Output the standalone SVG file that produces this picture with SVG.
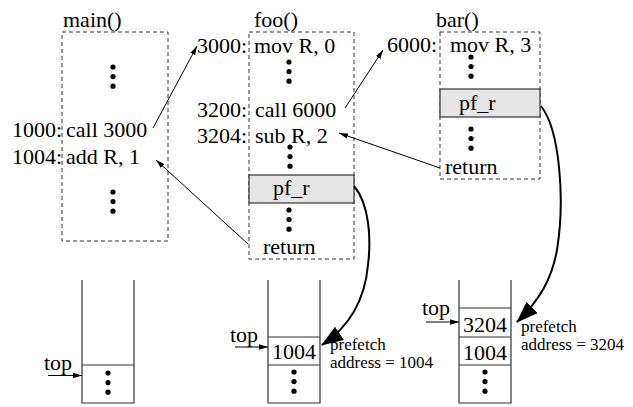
<svg xmlns="http://www.w3.org/2000/svg" width="633" height="407" viewBox="0 0 633 407" font-family="'Liberation Serif', 'Times New Roman', Times, serif">
  <defs>
    <style>
      text { fill: #000; }
      .t { font-size: 22px; }
      .s { font-size: 17px; }
      .frame { fill: none; stroke: #333; stroke-width: 1; stroke-dasharray: 4 3; }
      .pf { fill: #e6e6e6; stroke: #333; stroke-width: 1.2; }
      .stk { fill: none; stroke: #333; stroke-width: 1.2; }
      .thin { fill: none; stroke: #000; stroke-width: 1; marker-end: url(#ah); }
      .thick { fill: none; stroke: #000; stroke-width: 2; marker-end: url(#bh); }
      .dot { fill: #000; }
    </style>
    <marker id="ah" viewBox="0 0 10 6" refX="10" refY="3" markerWidth="9" markerHeight="5.5" markerUnits="userSpaceOnUse" orient="auto">
      <path d="M0,0 L10,3 L0,6 z" fill="#000"/>
    </marker>
    <marker id="bh" viewBox="0 0 22 16" refX="21" refY="8" markerWidth="22" markerHeight="16" markerUnits="userSpaceOnUse" orient="auto">
      <path d="M0,0 L22,8 L0,16 z" fill="#000"/>
    </marker>
    <g id="vdots">
      <circle cx="0" cy="0" r="2.6"/>
      <circle cx="0" cy="9.6" r="2.6"/>
      <circle cx="0" cy="19.2" r="2.6"/>
    </g>
  </defs>

  <!-- main() routine -->
  <g id="main">
    <text class="t" x="63" y="27">main()</text>
    <rect class="frame" x="62" y="32" width="106" height="209"/>
    <use href="#vdots" x="113" y="67" class="dot"/>
    <text class="t" x="12" y="137">1000:</text>
    <text class="t" x="66" y="137">call 3000</text>
    <text class="t" x="12" y="164">1004:</text>
    <text class="t" x="66" y="164">add R, 1</text>
    <use href="#vdots" x="113" y="192" class="dot"/>
  </g>

  <!-- foo() routine -->
  <g id="foo">
    <text class="t" x="254" y="27">foo()</text>
    <rect class="frame" x="249" y="32" width="105" height="227"/>
    <text class="t" x="197" y="53">3000:</text>
    <text class="t" x="254" y="53">mov R, 0</text>
    <use href="#vdots" x="289" y="62" class="dot"/>
    <text class="t" x="197" y="117">3200:</text>
    <text class="t" x="255" y="117">call 6000</text>
    <text class="t" x="197" y="143">3204:</text>
    <text class="t" x="255" y="143">sub R, 2</text>
    <use href="#vdots" x="290" y="147" class="dot"/>
    <rect class="pf" x="249" y="175" width="105" height="28"/>
    <text class="t" x="273" y="195">pf_r</text>
    <use href="#vdots" x="289" y="210" class="dot"/>
    <text class="t" x="263" y="254">return</text>
  </g>

  <!-- bar() routine -->
  <g id="bar">
    <text class="t" x="436" y="27">bar()</text>
    <rect class="frame" x="440" y="32" width="100" height="147"/>
    <text class="t" x="387" y="52">6000:</text>
    <text class="t" x="450" y="52">mov R, 3</text>
    <use href="#vdots" x="471" y="57" class="dot"/>
    <rect class="pf" x="440" y="89" width="100" height="28"/>
    <text class="t" x="459" y="110">pf_r</text>
    <use href="#vdots" x="471" y="129" class="dot"/>
    <text class="t" x="445" y="174">return</text>
  </g>

  <!-- return-address stack while in main() -->
  <g id="stack-main">
    <path class="stk" d="M82,280 V403 H134 V280 M82,365 H134"/>
    <use href="#vdots" x="108" y="373" class="dot"/>
    <text class="t" x="44" y="370">top</text>
    <line class="thin" x1="48" y1="375.5" x2="82" y2="375.5"/>
  </g>

  <!-- return-address stack while in foo() -->
  <g id="stack-foo">
    <path class="stk" d="M268,280 V403 H320 V280 M268,337 H320 M268,365 H320"/>
    <text class="t" x="272" y="359">1004</text>
    <use href="#vdots" x="294" y="372" class="dot"/>
    <text class="t" x="230" y="342">top</text>
    <line class="thin" x1="235" y1="347" x2="268" y2="347"/>
    <text class="s" x="330" y="350">prefetch</text>
    <text class="s" x="330" y="368">address = 1004</text>
  </g>

  <!-- return-address stack while in bar() -->
  <g id="stack-bar">
    <path class="stk" d="M459,280 V403 H511 V280 M459,308 H511 M459,337 H511 M459,365 H511"/>
    <text class="t" x="463" y="332">3204</text>
    <text class="t" x="463" y="360">1004</text>
    <use href="#vdots" x="485" y="372" class="dot"/>
    <text class="t" x="422" y="315">top</text>
    <line class="thin" x1="426" y1="322" x2="459" y2="322"/>
    <text class="s" x="521" y="332">prefetch</text>
    <text class="s" x="521" y="350">address = 3204</text>
  </g>

  <!-- control transfers and prefetch links -->
  <g id="connectors">
    <line class="thin" x1="153" y1="128" x2="197" y2="46"/>
    <line class="thin" x1="345" y1="108" x2="383" y2="50"/>
    <line class="thin" x1="440" y1="168" x2="339" y2="133"/>
    <line class="thin" x1="248" y1="244" x2="156" y2="160"/>
    <path class="thick" d="M354,186 C370,205 371,240 368,265 C365,298 352,325 322,345"/>
    <path class="thick" d="M541,106 C560,130 565,200 557,250 C552,278 540,300 517,322"/>
  </g>
</svg>
